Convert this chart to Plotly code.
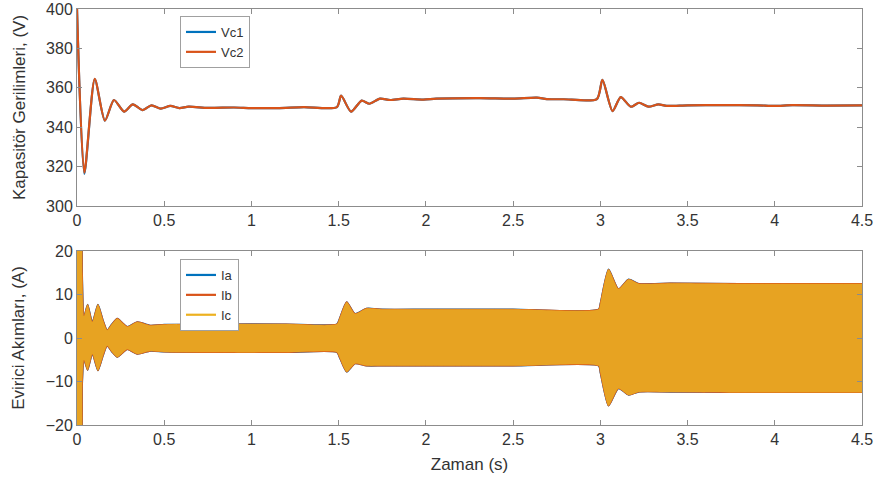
import plotly.graph_objects as go

# ---------------- data ----------------
# Capacitor voltages (V) vs time (s)
t_v = [0.0, 0.042, 0.102, 0.16, 0.212, 0.27, 0.32, 0.375, 0.427, 0.48, 0.535, 0.587, 0.64,
       0.75, 0.9, 1.0, 1.15, 1.3, 1.49, 1.514, 1.571, 1.632, 1.676, 1.737, 1.795, 1.871,
       1.986, 2.06, 2.31, 2.5, 2.636, 2.693, 2.79, 2.98, 3.012, 3.07, 3.117, 3.175, 3.222,
       3.276, 3.333, 3.38, 3.5, 3.7, 3.9, 4.0, 4.1, 4.3, 4.5]
vc1 = [400.0, 316.3, 364.4, 343.3, 353.8, 347.9, 351.6, 348.7, 351.1, 349.4, 350.8, 349.7, 350.4,
       349.8, 350.0, 349.7, 349.7, 350.2, 350.2, 356.0, 347.9, 353.5, 351.9, 354.5, 353.8, 354.5,
       354.0, 354.5, 354.8, 354.5, 355.0, 354.3, 354.2, 354.3, 364.0, 348.2, 355.3, 350.4, 352.4,
       350.4, 351.6, 350.8, 351.1, 351.2, 351.1, 350.8, 351.2, 351.0, 351.1]
vc2 = [400.0, 316.9, 364.5, 343.3, 353.8, 347.9, 351.6, 348.7, 351.1, 349.4, 350.8, 349.7, 350.4,
       349.8, 350.0, 349.7, 349.7, 350.2, 350.2, 356.0, 347.9, 353.5, 351.9, 354.5, 353.8, 354.5,
       354.0, 354.5, 354.8, 354.5, 355.0, 354.3, 354.2, 354.3, 364.0, 348.2, 355.3, 350.4, 352.4,
       350.4, 351.6, 350.8, 351.1, 351.2, 351.1, 350.8, 351.2, 351.0, 351.1]

# Inverter phase currents (A): upper / lower envelope of the 50 Hz oscillation
t_i = [0.0, 0.003, 0.022, 0.03, 0.04, 0.061, 0.088, 0.12, 0.15, 0.173, 0.2, 0.231, 0.26,
       0.288, 0.346, 0.42, 0.5, 0.8, 1.2, 1.49, 1.505, 1.546, 1.594, 1.66, 1.75, 2.0, 2.5,
       2.99, 3.0, 3.047, 3.104, 3.162, 3.22, 3.4, 3.8, 4.2, 4.5]
i_upper = [0.0, 24.0, 24.0, 15.0, 5.0, 7.7, 3.7, 7.7, 4.0, 1.8, 3.2, 4.5, 3.5,
           2.6, 3.7, 2.9, 3.1, 3.2, 3.2, 3.2, 4.5, 8.3, 5.6, 6.8, 6.6, 6.6, 6.6,
           6.6, 8.0, 15.8, 11.3, 13.5, 12.5, 12.6, 12.5, 12.5, 12.5]
i_lower = [0.0, -24.0, -24.0, -11.0, -5.0, -7.4, -3.7, -7.5, -4.0, -1.8, -3.2, -4.4, -3.5,
           -2.6, -3.7, -3.0, -3.2, -3.3, -3.3, -3.3, -4.5, -7.8, -5.9, -6.4, -6.4, -6.4, -6.4,
           -6.4, -8.0, -15.6, -11.6, -13.1, -12.4, -12.4, -12.5, -12.5, -12.5]

x_ticks = [0, 0.5, 1, 1.5, 2, 2.5, 3, 3.5, 4, 4.5]
x_tick_text = ["0", "0.5", "1", "1.5", "2", "2.5", "3", "3.5", "4", "4.5"]
v_ticks = [300, 320, 340, 360, 380, 400]
i_ticks = [-20, -10, 0, 10, 20]

BLUE, ORANGE, YELLOW = "#0072BD", "#D95319", "#EDB120"
FONT = "Liberation Sans, Arial, sans-serif"
TXT = "#333333"
AX = "#8c8c8c"

fig = go.Figure()

# ---------------- top: capacitor voltages ----------------
fig.add_trace(go.Scatter(x=t_v, y=vc1, mode="lines", name="Vc1",
                         line=dict(color=BLUE, width=2.2, shape="spline", smoothing=0.7),
                         xaxis="x", yaxis="y", legend="legend"))
fig.add_trace(go.Scatter(x=t_v, y=vc2, mode="lines", name="Vc2",
                         line=dict(color=ORANGE, width=2.2, shape="spline", smoothing=0.7),
                         xaxis="x", yaxis="y", legend="legend"))

# ---------------- bottom: phase currents (dense oscillation shown as envelope bands) ----------------
phases = [("Ia", BLUE, "rgba(0,114,189,1)", 1.4),
          ("Ib", ORANGE, "rgba(217,83,25,1)", 1.2),
          ("Ic", YELLOW, "rgba(231,163,34,1)", 0)]
for name, col, fillcol, lw in phases:
    fig.add_trace(go.Scatter(x=t_i, y=i_upper, mode="lines", showlegend=False,
                             line=dict(color=col, width=lw if lw else 0.1, shape="spline", smoothing=0.6),
                             xaxis="x2", yaxis="y2", hoverinfo="skip"))
    fig.add_trace(go.Scatter(x=t_i, y=i_lower, mode="lines", showlegend=False, fill="tonexty",
                             fillcolor=fillcol,
                             line=dict(color=col, width=lw if lw else 0.1, shape="spline", smoothing=0.6),
                             xaxis="x2", yaxis="y2", hoverinfo="skip"))
# legend entries for the currents
for name, col, _, _ in phases:
    fig.add_trace(go.Scatter(x=[None], y=[None], mode="lines", name=name,
                             line=dict(color=col, width=2.2),
                             xaxis="x2", yaxis="y2", legend="legend2"))

axis_common = dict(showgrid=False, zeroline=False, showline=True, linecolor=AX, linewidth=1,
                   mirror="ticks", ticks="inside", ticklen=5, tickcolor=AX, automargin=False,
                   tickfont=dict(family=FONT, size=16, color=TXT))

top_bottom = (425 - 206) / 416
bot_top = (425 - 251) / 416
title_font = dict(family=FONT, size=17, color=TXT)

fig.update_layout(
    width=876, height=481,
    margin=dict(l=77, r=14, t=9, b=56),
    paper_bgcolor="white", plot_bgcolor="white",
    font=dict(family=FONT, color=TXT),
    xaxis=dict(domain=[0, 1], anchor="y", range=[0, 4.5], tickvals=x_ticks,
               ticktext=x_tick_text, **axis_common),
    yaxis=dict(domain=[top_bottom, 1], anchor="x", range=[300, 400], tickvals=v_ticks,
               title=dict(text="Kapasitör Gerilimleri, (V)", font=title_font, standoff=16),
               **axis_common),
    xaxis2=dict(domain=[0, 1], anchor="y2", range=[0, 4.5], tickvals=x_ticks,
                ticktext=x_tick_text,
                title=dict(text="Zaman (s)", font=title_font, standoff=10),
                **axis_common),
    yaxis2=dict(domain=[0, bot_top], anchor="x2", range=[-20, 20], tickvals=i_ticks,
                title=dict(text="Evirici Akımları, (A)", font=title_font, standoff=16),
                **axis_common),
    legend=dict(x=(180 - 77) / 785, y=(425 - 16) / 416, xanchor="left", yanchor="top",
                bgcolor="white", bordercolor="#a0a0a0", borderwidth=1, traceorder="normal",
                font=dict(family=FONT, size=13, color=TXT), itemwidth=30,
                tracegroupgap=0),
    legend2=dict(x=(180 - 77) / 785, y=(425 - 259) / 416, xanchor="left", yanchor="top",
                 bgcolor="white", bordercolor="#a0a0a0", borderwidth=1, traceorder="normal",
                 font=dict(family=FONT, size=13, color=TXT), itemwidth=30,
                 tracegroupgap=0),
)

fig.write_html("out.html")
